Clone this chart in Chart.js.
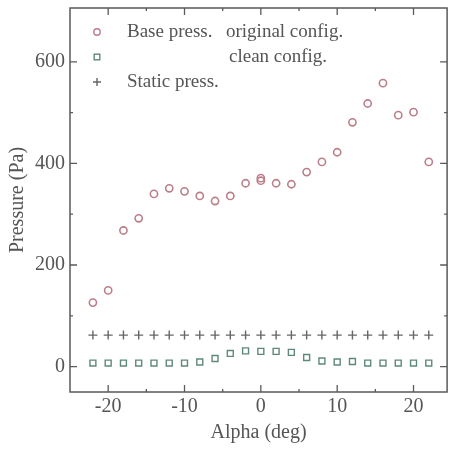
<!DOCTYPE html>
<html>
<head>
<meta charset="utf-8">
<script src="https://cdn.jsdelivr.net/npm/chart.js@4"></script>
<style>
  body { margin: 0; background: #fff; }
  #wrap { width: 453px; height: 451px; }
</style>
</head>
<body>
<div id="wrap"><canvas id="myChart" width="453" height="451"></canvas></div>
<script>
// angle of attack (deg)
const alpha = [-22, -20, -18, -16, -14, -12, -10, -8, -6, -4, -2, 0, 2, 4, 6, 8, 10, 12, 14, 16, 18, 20, 22];
// base pressure, original configuration (two readings at 0 deg)
const baseOrigX = [-22, -20, -18, -16, -14, -12, -10, -8, -6, -4, -2, 0, 0, 2, 4, 6, 8, 10, 12, 14, 16, 18, 20, 22];
const baseOrig = [126, 150, 268, 292, 340, 351, 345, 336, 326, 336, 361, 371, 366, 361, 359, 383, 403, 422, 481, 518, 558, 495, 501, 403];
// base pressure, clean configuration
const baseClean = [7, 7, 7, 7, 7, 7, 7, 9, 16, 26, 31, 30, 30, 28, 18, 11, 9, 10, 7, 7, 7, 7, 7];
// static pressure
const staticP = [62, 62, 62, 62, 62, 62, 62, 62, 62, 62, 62, 62, 62, 62, 62, 62, 62, 62, 62, 62, 62, 62, 62];

const xTicks = [-20, -10, 0, 10, 20];
const xMinor = [-15, -5, 5, 15];
const yTicks = [0, 200, 400, 600];
const yMinor = [100, 300, 500];

const serif = "'Liberation Serif', 'DejaVu Serif', serif";
const ink = "#555555";
const red = "#bb7f89";
const green = "#5f887c";
const plus = "#666666";

const pts = (xs, ys) => xs.map((x, i) => ({ x: x, y: ys[i] }));

// frame + inward ticks, like the original plot
const framePlugin = {
  id: "frame",
  afterDraw(chart) {
    const ctx = chart.ctx;
    const a = chart.chartArea;
    const sx = chart.scales.x, sy = chart.scales.y;
    ctx.save();
    ctx.strokeStyle = "#5a5a5a";
    ctx.lineWidth = 1.5;
    ctx.strokeRect(a.left, a.top, a.right - a.left, a.bottom - a.top);
    ctx.lineWidth = 1.3;
    ctx.beginPath();
    const tx = (v, len) => {
      const p = sx.getPixelForValue(v);
      ctx.moveTo(p, a.bottom); ctx.lineTo(p, a.bottom - len);
      ctx.moveTo(p, a.top); ctx.lineTo(p, a.top + len);
    };
    const ty = (v, len) => {
      const p = sy.getPixelForValue(v);
      ctx.moveTo(a.left, p); ctx.lineTo(a.left + len, p);
      ctx.moveTo(a.right, p); ctx.lineTo(a.right - len, p);
    };
    xTicks.forEach(v => tx(v, 7));
    xMinor.forEach(v => tx(v, 3));
    yTicks.forEach(v => ty(v, 7));
    yMinor.forEach(v => ty(v, 3));
    ctx.stroke();
    ctx.restore();
  }
};

// legend drawn inside the plot, top left
const legendPlugin = {
  id: "insideLegend",
  afterDatasetsDraw(chart) {
    const ctx = chart.ctx;
    const a = chart.chartArea;
    const mx = a.left + 27;
    const tx = a.left + 57;
    const r1 = a.top + 24, r2 = a.top + 49, r3 = a.top + 74;
    ctx.save();
    ctx.font = "19px " + serif;
    ctx.fillStyle = ink;
    ctx.textBaseline = "middle";
    ctx.lineWidth = 1.4;
    ctx.strokeStyle = red;
    ctx.beginPath(); ctx.arc(mx, r1, 3.2, 0, Math.PI * 2); ctx.stroke();
    ctx.strokeStyle = green;
    ctx.strokeRect(mx - 2.8, r2 - 2.8, 5.6, 5.6);
    ctx.strokeStyle = plus;
    ctx.beginPath();
    ctx.moveTo(mx - 4, r3); ctx.lineTo(mx + 4, r3);
    ctx.moveTo(mx, r3 - 4); ctx.lineTo(mx, r3 + 4);
    ctx.stroke();
    ctx.fillText("Base press.", tx, r1);
    ctx.fillText("original config.", a.left + 156, r1);
    ctx.fillText("clean config.", a.left + 159, r2);
    ctx.fillText("Static press.", tx, r3);
    ctx.restore();
  }
};

const ctx = document.getElementById("myChart").getContext("2d");
new Chart(ctx, {
  type: "scatter",
  data: {
    datasets: [
      {
        label: "Base press. original config.",
        data: pts(baseOrigX, baseOrig),
        pointStyle: "circle",
        pointRadius: 3.6,
        borderColor: red,
        backgroundColor: "rgba(0,0,0,0)",
        borderWidth: 1.6
      },
      {
        label: "clean config.",
        data: pts(alpha, baseClean),
        pointStyle: "rect",
        pointRadius: 4.2,
        borderColor: green,
        backgroundColor: "rgba(0,0,0,0)",
        borderWidth: 1.4
      },
      {
        label: "Static press.",
        data: pts(alpha, staticP),
        pointStyle: "cross",
        pointRadius: 4.5,
        borderColor: plus,
        borderWidth: 1.4
      }
    ]
  },
  options: {
    responsive: false,
    animation: false,
    layout: { padding: { top: 8, right: 3, left: 0, bottom: 0 } },
    plugins: {
      legend: { display: false },
      tooltip: { enabled: false }
    },
    scales: {
      x: {
        type: "linear",
        min: -25,
        max: 24.4,
        afterBuildTicks: s => { s.ticks = xTicks.map(v => ({ value: v })); },
        afterFit: s => { s.height = 59; s.paddingLeft = 0; s.paddingRight = 0; },
        grid: { display: false, drawTicks: false },
        border: { display: false },
        ticks: { color: ink, font: { family: serif, size: 20 }, padding: 3 },
        title: { display: true, text: "Alpha (deg)", color: ink, font: { family: serif, size: 20 }, padding: { top: 0, bottom: 6 } }
      },
      y: {
        type: "linear",
        min: -50,
        max: 706,
        afterBuildTicks: s => { s.ticks = yTicks.map(v => ({ value: v })); },
        afterFit: s => { s.width = 70; s.paddingTop = 0; s.paddingBottom = 0; },
        grid: { display: false, drawTicks: false },
        border: { display: false },
        ticks: { color: ink, font: { family: serif, size: 20 }, padding: 5 },
        title: { display: true, text: "Pressure (Pa)", color: ink, font: { family: serif, size: 20 }, padding: { top: 6, bottom: 0 } }
      }
    }
  },
  plugins: [framePlugin, legendPlugin]
});
</script>
</body>
</html>
